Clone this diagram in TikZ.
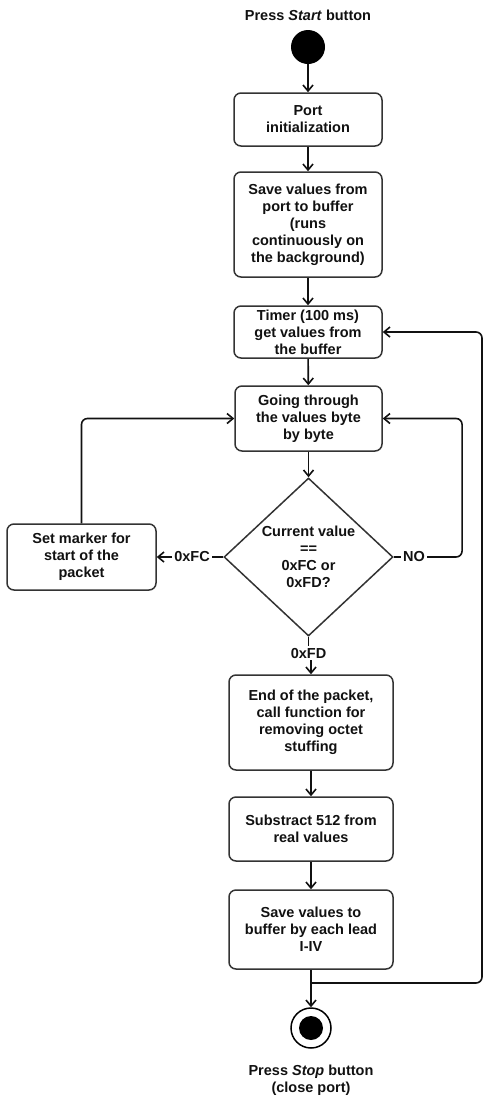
\documentclass[tikz,border=0pt]{standalone}
\usepackage{fontspec}
\setmainfont{Liberation Sans}
\usetikzlibrary{arrows.meta,shapes.geometric}
\definecolor{flowInk}{HTML}{111111}
\definecolor{flowEdge}{HTML}{333333}
\tikzset{
  flow text/.style={font=\bfseries\fontsize{14.5}{17}\selectfont, text=flowInk},
  flow box/.style={flow text, draw=flowEdge, line width=1.5pt, rounded corners=7pt, align=center, inner sep=0pt},
  flow test/.style={flow text, diamond, draw=flowEdge, line width=1.5pt, align=center, inner sep=0pt, aspect=1.07},
  flow label/.style={flow text, inner sep=2pt},
  flow line/.style={draw=flowInk, line width=1.6pt, rounded corners=6pt},
  flow arrow/.style={flow line, -{Straight Barb[length=6pt,width=10pt]}},
}
\begin{document}
\begin{tikzpicture}[x=1pt, y=-1pt]
  \useasboundingbox (0,0) rectangle (484,1098);

  % start and upper column
  \node[flow label] (starttxt) at (308,15) {Press \textit{Start} button};
  \node[circle, fill=black, minimum size=34pt, inner sep=0pt] (start) at (308,47) {};
  \node[flow box, minimum width=148pt, minimum height=53pt] (portinit) at (308,119.5) {Port\\initialization};
  \node[flow box, minimum width=148pt, minimum height=105pt] (savebuf) at (308,224.5) {Save values from\\port to buffer\\(runs\\continuously on\\the background)};
  \node[flow box, minimum width=148pt, minimum height=52pt] (timer) at (308,332) {Timer (100 ms)\\get values from\\the buffer};
  \node[flow box, minimum width=147pt, minimum height=65pt] (going) at (308.5,418.5) {Going through\\the values byte\\by byte};
  \node[flow test, minimum width=169pt, minimum height=158pt] (test) at (308.5,557) {Current value\\==\\0xFC or\\0xFD?};
  \node[flow box, minimum width=149pt, minimum height=66pt] (marker) at (81.5,557) {Set marker for\\start of the\\packet};

  % branch labels
  \node[flow label] (fc) at (192,557) {0xFC};
  \node[flow label] (no) at (414,557) {NO};
  \node[flow label] (fd) at (308.5,653) {0xFD};

  % lower column
  \node[flow box, minimum width=164pt, minimum height=95pt] (endpk) at (311,722.5) {End of the packet,\\call function for\\removing octet\\stuffing};
  \node[flow box, minimum width=164pt, minimum height=64pt] (subtr) at (311,829) {Substract 512 from\\real values};
  \node[flow box, minimum width=164pt, minimum height=79pt] (savelead) at (311,929.5) {Save values to\\buffer by each lead\\I-IV};
  \coordinate (join) at (311,983);
  \node[circle, draw=black, fill=white, line width=1.5pt, minimum size=40pt, inner sep=0pt] (stop) at (311,1028) {};
  \node[circle, fill=black, minimum size=24pt, inner sep=0pt] (stopdot) at (311,1028) {};
  \node[flow label, align=center] (stoptxt) at (311,1080) {Press \textit{Stop} button\\(close port)};

  % connectors
  \draw[flow arrow] (start) -- (portinit);
  \draw[flow arrow] (portinit) -- (savebuf);
  \draw[flow arrow] (savebuf) -- (timer);
  \draw[flow arrow] (timer) -- (going);
  \draw[flow arrow] (going) -- (test);
  \draw[flow line] (test.west) -- (fc.east);
  \draw[flow arrow] (fc.west) -- (marker.east);
  \draw[flow arrow] (marker.north) |- (going.west);
  \draw[flow line] (test.east) -- (no.west);
  \draw[flow arrow] (no.east) -- ++(35,0) |- (going.east);
  \draw[flow line] (test.south) -- (test.south |- fd.north);
  \draw[flow arrow] (endpk.north |- fd.south) -- (endpk.north);
  \draw[flow arrow] (endpk) -- (subtr);
  \draw[flow arrow] (subtr) -- (savelead);
  \draw[flow arrow] (savelead) -- (stop);
  \draw[flow arrow] (join) -- ++(171,0) |- (timer.east);
\end{tikzpicture}
\end{document}
